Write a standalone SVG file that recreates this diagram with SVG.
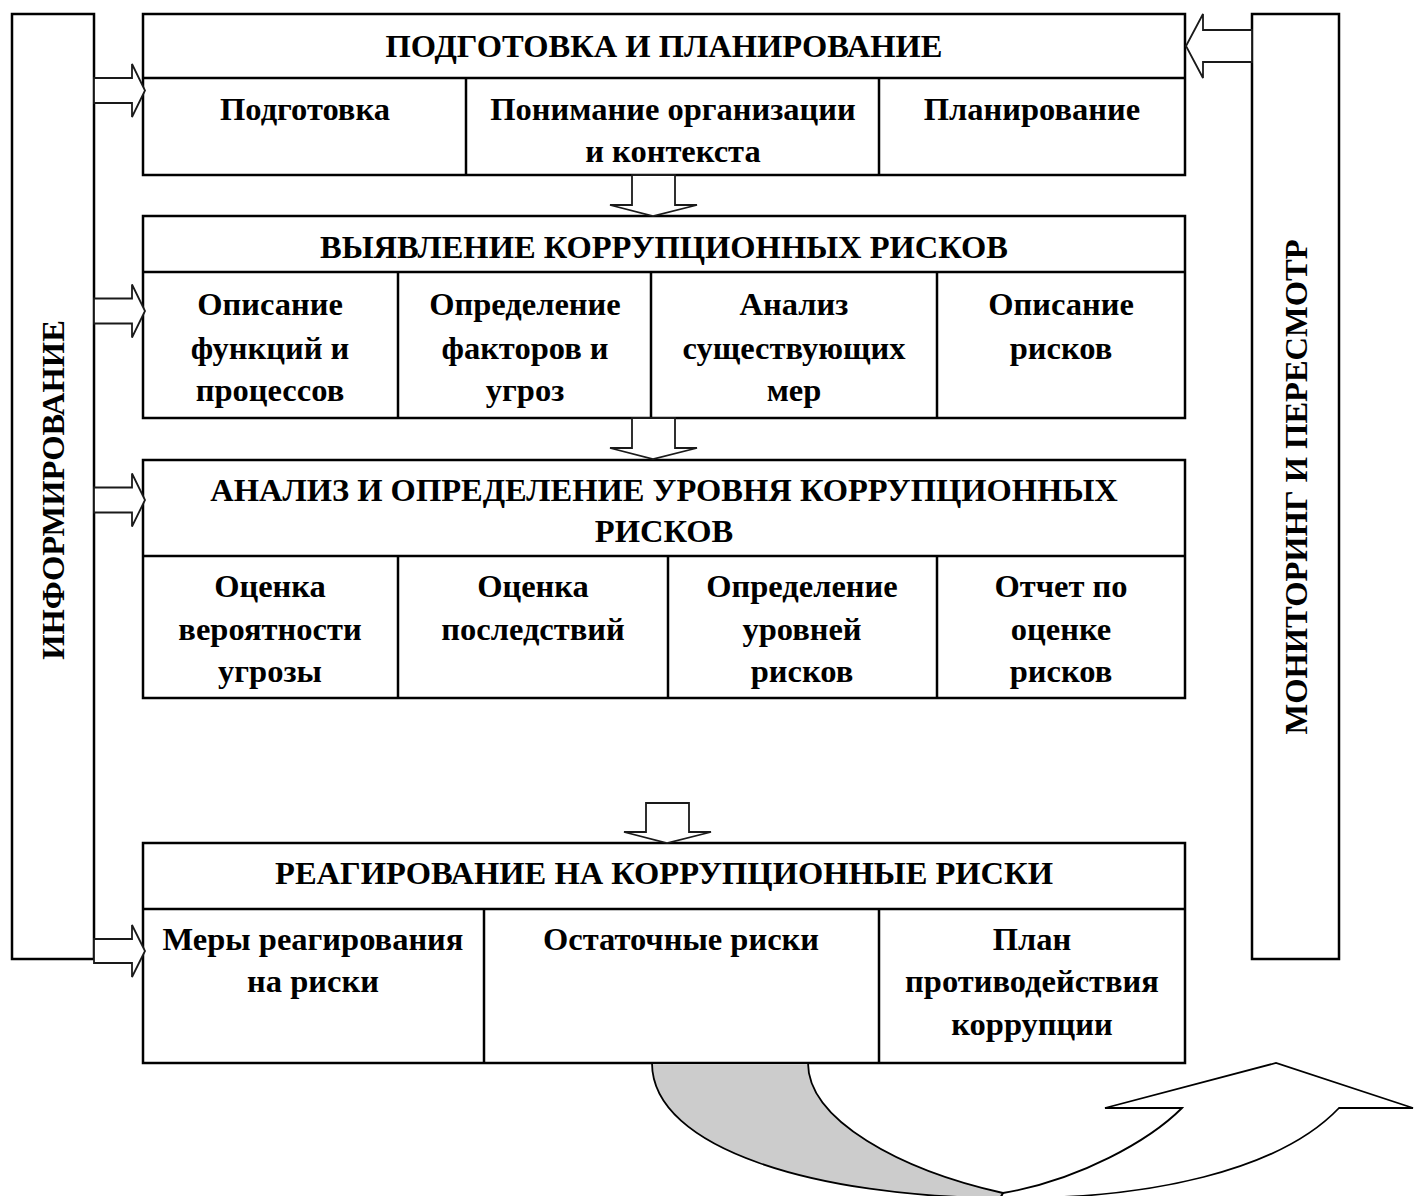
<svg xmlns="http://www.w3.org/2000/svg" width="1414" height="1196" viewBox="0 0 1414 1196">
<style>
.box{fill:#fff;stroke:#000;stroke-width:2.5}
.ln{stroke:#000;stroke-width:2.5;fill:none}
.t{font-family:"Liberation Serif","Times New Roman",serif;font-weight:bold;font-size:32.5px;fill:#000;text-anchor:middle}
.ar{fill:#fff;stroke:#1a1a1a;stroke-width:1.8;stroke-linejoin:miter}
.cv{stroke:#000;stroke-width:1.8}
</style>
<rect width="1414" height="1196" fill="#fff"/>

<g id="informing">
<rect class="box" x="12" y="14" width="82" height="945"/>
<text class="t" transform="translate(64,490) rotate(-90)">ИНФОРМИРОВАНИЕ</text>
</g>

<g id="monitoring">
<rect class="box" x="1252" y="14" width="87" height="945"/>
<text class="t" transform="translate(1307,487) rotate(-90)">МОНИТОРИНГ И ПЕРЕСМОТР</text>
</g>

<g id="stage1">
<rect class="box" x="143" y="14" width="1042" height="161"/>
<line class="ln" x1="143" y1="78" x2="1185" y2="78"/>
<line class="ln" x1="466" y1="78" x2="466" y2="175"/>
<line class="ln" x1="879" y1="78" x2="879" y2="175"/>
<text class="t" x="664" y="57">ПОДГОТОВКА И ПЛАНИРОВАНИЕ</text>
<text class="t" x="305" y="120">Подготовка</text>
<text class="t" x="673" y="120">Понимание организации</text>
<text class="t" x="673" y="162">и контекста</text>
<text class="t" x="1032" y="120">Планирование</text>
</g>

<g id="stage2">
<rect class="box" x="143" y="216" width="1042" height="202"/>
<line class="ln" x1="143" y1="272" x2="1185" y2="272"/>
<line class="ln" x1="398" y1="272" x2="398" y2="418"/>
<line class="ln" x1="651" y1="272" x2="651" y2="418"/>
<line class="ln" x1="937" y1="272" x2="937" y2="418"/>
<text class="t" x="664" y="258">ВЫЯВЛЕНИЕ КОРРУПЦИОННЫХ РИСКОВ</text>
<text class="t" x="270" y="315">Описание</text>
<text class="t" x="270" y="359">функций и</text>
<text class="t" x="270" y="401">процессов</text>
<text class="t" x="525" y="315">Определение</text>
<text class="t" x="525" y="359">факторов и</text>
<text class="t" x="525" y="401">угроз</text>
<text class="t" x="794" y="315">Анализ</text>
<text class="t" x="794" y="359">существующих</text>
<text class="t" x="794" y="401">мер</text>
<text class="t" x="1061" y="315">Описание</text>
<text class="t" x="1061" y="359">рисков</text>
</g>

<g id="stage3">
<rect class="box" x="143" y="460" width="1042" height="238"/>
<line class="ln" x1="143" y1="556" x2="1185" y2="556"/>
<line class="ln" x1="398" y1="556" x2="398" y2="698"/>
<line class="ln" x1="668" y1="556" x2="668" y2="698"/>
<line class="ln" x1="937" y1="556" x2="937" y2="698"/>
<text class="t" x="664" y="501">АНАЛИЗ И ОПРЕДЕЛЕНИЕ УРОВНЯ КОРРУПЦИОННЫХ</text>
<text class="t" x="664" y="542">РИСКОВ</text>
<text class="t" x="270" y="597">Оценка</text>
<text class="t" x="270" y="640">вероятности</text>
<text class="t" x="270" y="682">угрозы</text>
<text class="t" x="533" y="597">Оценка</text>
<text class="t" x="533" y="640">последствий</text>
<text class="t" x="802" y="597">Определение</text>
<text class="t" x="802" y="640">уровней</text>
<text class="t" x="802" y="682">рисков</text>
<text class="t" x="1061" y="597">Отчет по</text>
<text class="t" x="1061" y="640">оценке</text>
<text class="t" x="1061" y="682">рисков</text>
</g>

<g id="stage4">
<rect class="box" x="143" y="843" width="1042" height="220"/>
<line class="ln" x1="143" y1="909" x2="1185" y2="909"/>
<line class="ln" x1="484" y1="909" x2="484" y2="1063"/>
<line class="ln" x1="879" y1="909" x2="879" y2="1063"/>
<text class="t" x="664" y="884">РЕАГИРОВАНИЕ НА КОРРУПЦИОННЫЕ РИСКИ</text>
<text class="t" x="313" y="950">Меры реагирования</text>
<text class="t" x="313" y="992">на риски</text>
<text class="t" x="681" y="950">Остаточные риски</text>
<text class="t" x="1032" y="950">План</text>
<text class="t" x="1032" y="992">противодействия</text>
<text class="t" x="1032" y="1035">коррупции</text>
</g>

<g id="connectors">
<polygon class="ar" points="94,78 132,78 132,64 145,90.5 132,117 132,103 94,103"/>
<polygon class="ar" points="94,298.5 132,298.5 132,284.5 145,311 132,337.5 132,323.5 94,323.5"/>
<polygon class="ar" points="94,487.5 132,487.5 132,473.5 145,500 132,526.5 132,512.5 94,512.5"/>
<polygon class="ar" points="94,939 132,939 132,925 145,951 132,977 132,963 94,963"/>
<polygon class="ar" points="1252,30 1203,30 1203,14 1186,46 1203,78 1203,62 1252,62"/>
<polygon class="ar" points="632,175 632,205 610,205 653,216 697,205 675,205 675,175"/>
<polygon class="ar" points="632,418 632,448 610,448 653,459 697,448 675,448 675,418"/>
<polygon class="ar" points="646,803 646,832 624,832 667,843 711,832 689,832 689,803"/>
<path class="cv" fill="#fff" d="M1003,1193 C1080,1180 1150,1140 1182,1108 L1105,1108 L1276,1063 L1413,1108 L1339,1108 C1280,1170 1150,1200 1000,1198 Z"/>
<path class="cv" fill="#cccccc" d="M652,1063 L808,1063 C808,1120 900,1170 1003,1193 L1000,1198 C820,1197 652,1150 652,1063 Z"/>
</g>
</svg>
